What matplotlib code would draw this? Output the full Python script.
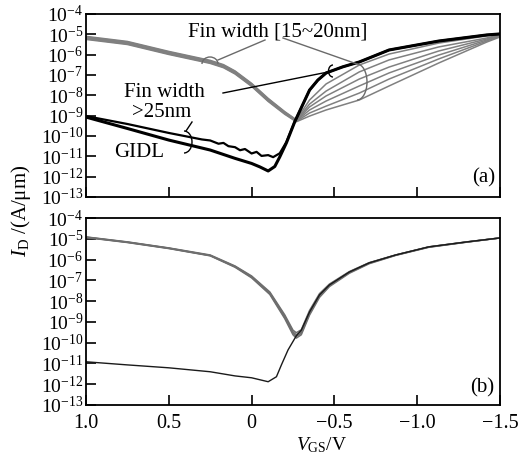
import matplotlib
matplotlib.use("Agg")
import matplotlib.pyplot as plt
import numpy as np
from matplotlib.patches import Arc

plt.rcParams["font.family"] = ["Liberation Serif", "DejaVu Serif"]
plt.rcParams["mathtext.fontset"] = "custom"
plt.rcParams["mathtext.rm"] = "Liberation Serif"
plt.rcParams["mathtext.it"] = "Liberation Serif:italic"

# gate voltage grid (V) and log10 of drain current (A/um)
vgs_top = [1.0, 0.75, 0.5, 0.25, 0.17, 0.1, 0.0, -0.1, -0.2, -0.27, -0.35, -0.45, -0.65, -0.83, -1.13, -1.42, -1.5]

# (a) fin width 15~20nm, grey fan
fin_narrow_1 = [-5.10, -5.35, -5.84, -6.28, -6.49, -6.80, -7.41, -8.15, -8.80, -9.20, -8.23, -7.44, -6.51, -5.97, -5.43, -5.08, -4.98]
fin_narrow_2 = [-5.13, -5.38, -5.87, -6.31, -6.52, -6.83, -7.44, -8.18, -8.83, -9.22, -8.43, -7.79, -6.85, -6.26, -5.62, -5.18, -5.03]
fin_narrow_3 = [-5.16, -5.41, -5.90, -6.34, -6.55, -6.86, -7.47, -8.21, -8.85, -9.24, -8.57, -8.03, -7.20, -6.61, -5.82, -5.23, -5.03]
fin_narrow_4 = [-5.19, -5.44, -5.93, -6.37, -6.58, -6.89, -7.50, -8.24, -8.87, -9.26, -8.72, -8.28, -7.54, -6.90, -6.02, -5.28, -5.08]
fin_narrow_5 = [-5.22, -5.47, -5.96, -6.40, -6.61, -6.92, -7.53, -8.27, -8.90, -9.28, -8.87, -8.53, -7.89, -7.20, -6.21, -5.33, -5.08]
fin_narrow_6 = [-5.25, -5.50, -5.99, -6.43, -6.64, -6.95, -7.56, -8.30, -8.93, -9.30, -9.02, -8.72, -8.23, -7.54, -6.41, -5.38, -5.13]

# (a) fin width >25nm, black
vgs_wide_lo = [1.0, 0.75, 0.5, 0.25, 0.1, 0.0, -0.05, -0.1, -0.14, -0.17, -0.21, -0.26,
               -0.35, -0.4, -0.45, -0.55, -0.65, -0.83, -1.13, -1.42, -1.5]
fin_wide_lo = [-9.07, -9.63, -10.2, -10.69, -11.1, -11.35, -11.52, -11.72, -11.5, -11.03, -10.34, -9.31,
               -7.74, -7.25, -6.90, -6.60, -6.36, -5.77, -5.33, -5.03, -4.98]
vgs_wide_hi = [1.0, 0.75, 0.5, 0.3, 0.25, 0.2, 0.17, 0.14, 0.1, 0.07, 0.04, 0.0, -0.03, -0.06,
               -0.1, -0.13, -0.17, -0.21, -0.26, -0.35, -0.4, -0.45, -0.55, -0.65, -0.83, -1.13, -1.42, -1.5]
fin_wide_hi = [-9.02, -9.41, -9.85, -10.17, -10.22, -10.38, -10.34, -10.50, -10.55, -10.70, -10.64, -10.86, -10.78, -10.98,
               -10.94, -11.04, -10.85, -10.30, -9.30, -7.74, -7.25, -6.90, -6.60, -6.36, -5.77, -5.33, -5.03, -4.98]

# (b) simulated curves
vgs_bot = [1.0, 0.75, 0.5, 0.25, 0.1, 0.0, -0.11, -0.2, -0.25, -0.27, -0.3, -0.35, -0.41, -0.47,
           -0.59, -0.71, -0.87, -1.07, -1.3, -1.5]
sim_1 = [-4.91, -5.15, -5.44, -5.78, -6.31, -6.79, -7.56, -8.66, -9.40, -9.52, -9.38, -8.45, -7.64, -7.18,
         -6.58, -6.15, -5.78, -5.39, -5.15, -4.96]
sim_2 = [-4.92, -5.16, -5.45, -5.80, -6.33, -6.82, -7.60, -8.72, -9.48, -9.62, -9.47, -8.52, -7.70, -7.22,
         -6.60, -6.16, -5.78, -5.39, -5.15, -4.96]
sim_3 = [-4.93, -5.17, -5.46, -5.81, -6.35, -6.85, -7.64, -8.78, -9.55, -9.70, -9.55, -8.60, -7.76, -7.26,
         -6.63, -6.18, -5.79, -5.40, -5.16, -4.96]
sim_4 = [-4.94, -5.18, -5.47, -5.82, -6.37, -6.88, -7.68, -8.84, -9.62, -9.78, -9.62, -8.67, -7.82, -7.30,
         -6.66, -6.20, -5.80, -5.41, -5.16, -4.96]
vgs_sim_gidl = [1.0, 0.75, 0.5, 0.25, 0.1, 0.0, -0.1, -0.15, -0.18, -0.22, -0.27, -0.3, -0.35, -0.41,
                -0.47, -0.59, -0.71, -0.87, -1.07, -1.3, -1.5]
sim_gidl = [-10.92, -11.07, -11.21, -11.4, -11.6, -11.69, -11.88, -11.64, -11.07, -10.35, -9.67, -9.40, -8.52, -7.70,
            -7.22, -6.60, -6.16, -5.78, -5.39, -5.15, -4.96]

xtick_vals = [1.0, 0.5, 0.0, -0.5, -1.0, -1.5]
xtick_labels = ["1.0", "0.5", "0", "\u22120.5", "\u22121.0", "\u22121.5"]
ytick_vals = [1e-13, 1e-12, 1e-11, 1e-10, 1e-9, 1e-8, 1e-7, 1e-6, 1e-5, 1e-4]
ytick_labels = ["$10^{-%d}$" % k for k in range(13, 3, -1)]

W, H = 525, 454
fig = plt.figure(figsize=(W / 100, H / 100), dpi=100)
ax1 = fig.add_axes([86 / W, 1 - 197 / H, 414 / W, 183 / H])
ax2 = fig.add_axes([86 / W, 1 - 405 / H, 414 / W, 187 / H])

grey_top = "#808080"
for curve in [fin_narrow_1, fin_narrow_2, fin_narrow_3, fin_narrow_4, fin_narrow_5, fin_narrow_6]:
    ax1.plot(vgs_top, 10 ** np.array(curve), color=grey_top, lw=1.1)
ax1.plot(vgs_wide_hi, 10 ** np.array(fin_wide_hi), color="black", lw=1.6)
ax1.plot(vgs_wide_lo, 10 ** np.array(fin_wide_lo), color="black", lw=2.2)

for curve in [sim_1, sim_2, sim_3, sim_4]:
    ax2.plot(vgs_bot, 10 ** np.array(curve), color="#6e6e6e", lw=1.1)
ax2.plot(vgs_sim_gidl, 10 ** np.array(sim_gidl), color="#1a1a1a", lw=1.0)

for ax in (ax1, ax2):
    ax.set_yscale("log")
    ax.set_xlim(1.0, -1.5)
    ax.set_ylim(1e-13, 1e-4)
    ax.set_yticks(ytick_vals)
    ax.set_yticklabels(ytick_labels)
    ax.yaxis.set_minor_locator(matplotlib.ticker.NullLocator())
    ax.set_xticks(xtick_vals)
    ax.tick_params(direction="in", length=7, width=1.2, labelsize=14, pad=2)
    ax.tick_params(axis="x", pad=6.5, labelsize=14.5)
    for s in ax.spines.values():
        s.set_linewidth(1.3)
ax1.set_xticklabels([])
ax2.set_xticklabels(xtick_labels)

ax1.text(0.988, 0.107, "(a)", transform=ax1.transAxes, ha="right", va="center", fontsize=15)
ax2.text(0.985, 0.091, "(b)", transform=ax2.transAxes, ha="right", va="center", fontsize=15)

fig.text(21 / W, 1 - 211 / H, "$I_{\\mathrm{D}}$ /(A/\u03bcm)",
         rotation=90, ha="center", va="center", fontsize=15)
fig.text(322 / W, 1 - 450 / H, "$V_{\\mathrm{GS}}$/V", ha="center", va="baseline", fontsize=14)

# annotation layer in pixel coordinates
ov = fig.add_axes([0, 0, 1, 1], facecolor="none")
ov.set_xlim(0, W)
ov.set_ylim(H, 0)
ov.axis("off")

ov.text(278, 37, "Fin width [15~20nm]", ha="center", va="baseline", fontsize=15)
ov.text(164, 97, "Fin width", ha="center", va="baseline", fontsize=15)
ov.text(162, 117, ">25nm", ha="center", va="baseline", fontsize=15)
ov.text(139, 157, "GIDL", ha="center", va="baseline", fontsize=15)

lead_grey = "#6a6a6a"
ov.plot([265, 218], [40, 60], color=lead_grey, lw=1.0)
ov.add_patch(Arc((210, 64), 16, 14, theta1=180, theta2=360, color=lead_grey, lw=1.0))
ov.plot([283, 357], [38, 64], color=lead_grey, lw=1.0)
ov.add_patch(Arc((357, 82), 20, 36, theta1=-90, theta2=90, color=lead_grey, lw=1.0))
ov.plot([223, 328], [93, 72], color="black", lw=1.0)
ov.add_patch(Arc((333, 71), 9, 12, theta1=90, theta2=270, color="black", lw=1.0))
ov.add_patch(Arc((184, 142), 16, 22, theta1=-90, theta2=90, color="black", lw=1.0))
ov.plot([186, 192], [131, 122], color="black", lw=1.0)

fig.savefig("out.png", dpi=100)
